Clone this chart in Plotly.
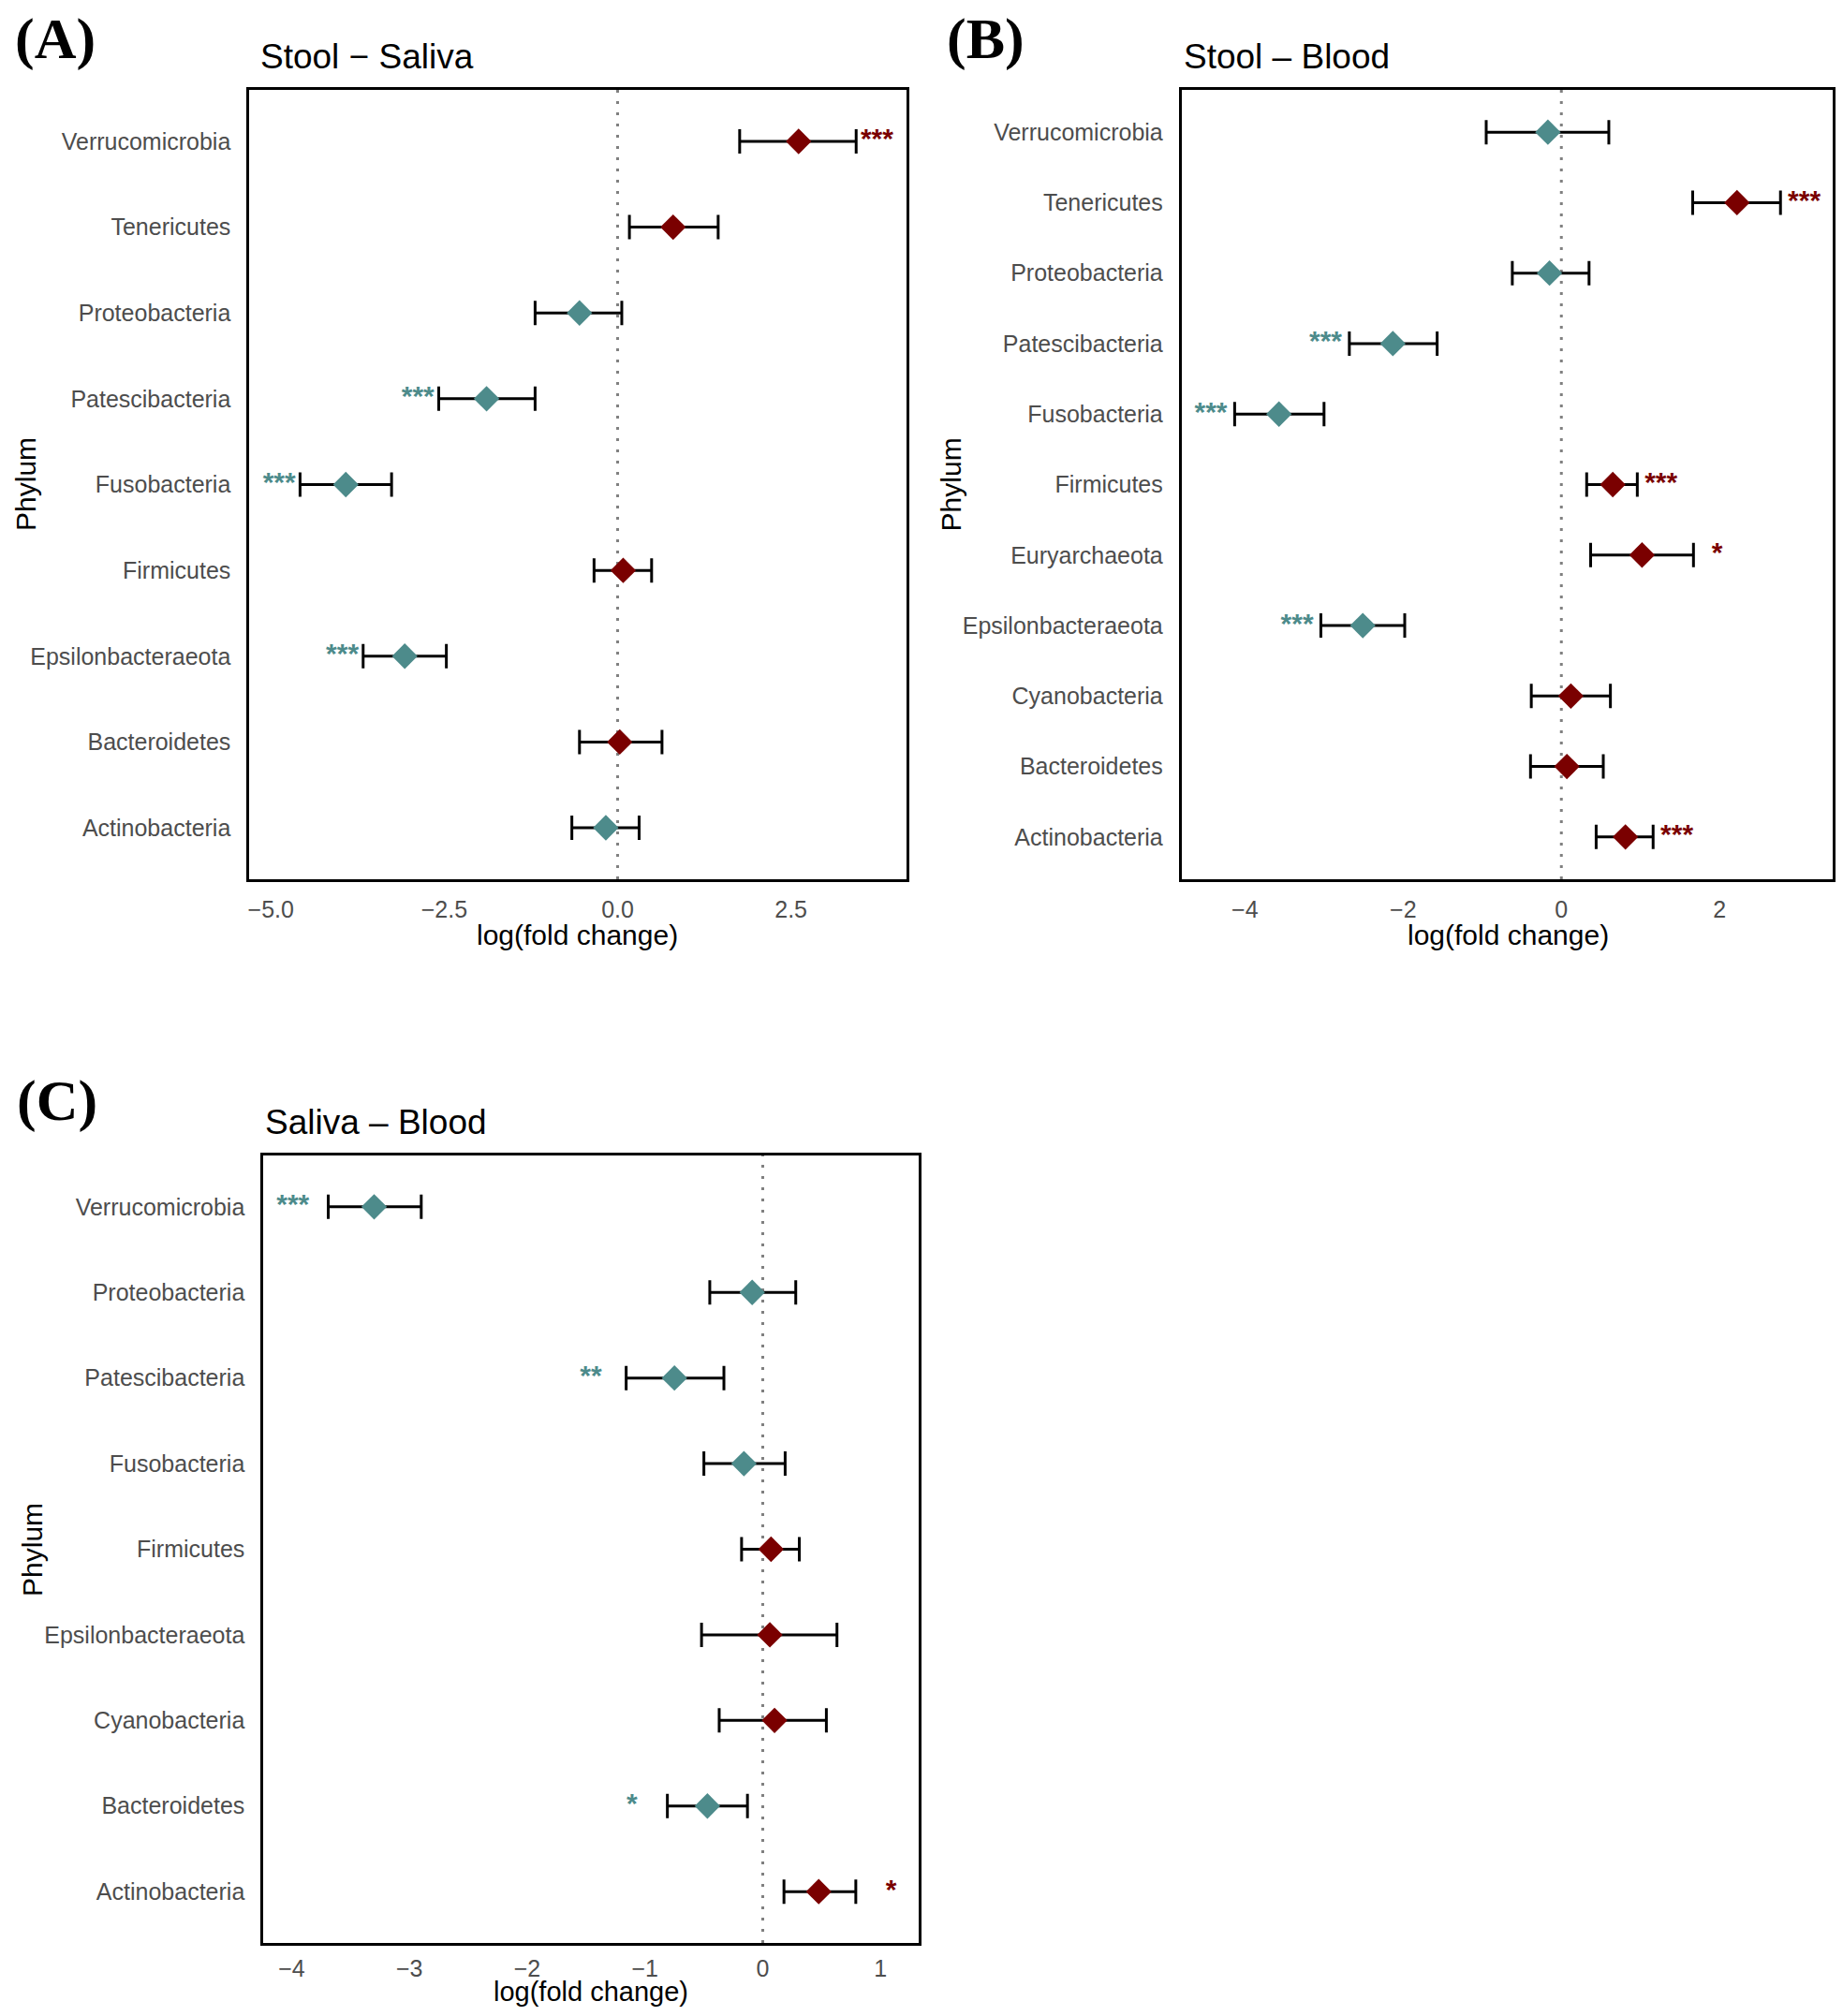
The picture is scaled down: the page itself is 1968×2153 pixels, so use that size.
import plotly.graph_objects as go

# Panel A: Stool - Saliva
phyla_a = ["Actinobacteria", "Bacteroidetes", "Epsilonbacteraeota", "Firmicutes", "Fusobacteria",
           "Patescibacteria", "Proteobacteria", "Tenericutes", "Verrucomicrobia"]
est_a = [-0.17, 0.03, -3.07, 0.08, -3.92, -1.89, -0.55, 0.80, 2.61]
lo_a = [-0.66, -0.55, -3.67, -0.34, -4.58, -2.58, -1.19, 0.17, 1.76]
hi_a = [0.31, 0.64, -2.47, 0.49, -3.26, -1.19, 0.06, 1.45, 3.44]
sig_a = ["", "", "***", "", "***", "***", "", "", "***"]

# Panel B: Stool - Blood
phyla_b = ["Actinobacteria", "Bacteroidetes", "Cyanobacteria", "Epsilonbacteraeota", "Euryarchaeota",
           "Firmicutes", "Fusobacteria", "Patescibacteria", "Proteobacteria", "Tenericutes", "Verrucomicrobia"]
est_b = [0.81, 0.07, 0.12, -2.51, 1.02, 0.65, -3.57, -2.13, -0.15, 2.22, -0.17]
lo_b = [0.44, -0.39, -0.38, -3.04, 0.37, 0.32, -4.13, -2.68, -0.62, 1.66, -0.95]
hi_b = [1.16, 0.53, 0.62, -1.98, 1.67, 0.96, -3.00, -1.57, 0.35, 2.77, 0.60]
sig_b = ["***", "", "", "***", "*", "***", "***", "***", "", "***", ""]

# Panel C: Saliva - Blood
phyla_c = ["Actinobacteria", "Bacteroidetes", "Cyanobacteria", "Epsilonbacteraeota", "Firmicutes",
           "Fusobacteria", "Patescibacteria", "Proteobacteria", "Verrucomicrobia"]
est_c = [0.475, -0.47, 0.10, 0.06, 0.07, -0.16, -0.75, -0.09, -3.30]
lo_c = [0.18, -0.81, -0.37, -0.52, -0.18, -0.50, -1.16, -0.45, -3.69]
hi_c = [0.79, -0.13, 0.54, 0.63, 0.31, 0.19, -0.33, 0.28, -2.90]
sig_c = ["*", "*", "", "", "", "", "**", "", "***"]

titles = ["Stool \u2212 Saliva", "Stool \u2013 Blood", "Saliva \u2013 Blood"]

# the page body has an 8px margin, so the figure is drawn a bit smaller and shifted
PAD = 8
W, H = 1968 - 2 * PAD, 2153 - 2 * PAD
RED = "#7a0000"
TEAL = "#4d8b8b"
FONT = "Liberation Sans"


def px_x(p):
    return min(1.0, max(0.0, (p - PAD) / W))


def px_y(p):
    return min(1.0, max(0.0, 1 - (p - PAD) / H))


# plot boxes in page pixels: left, right, top, bottom
boxes = [(265, 968, 96, 939), (1263, 1962, 96, 939), (280, 981, 1234, 2075)]
xranges = [[-5.31, 4.16], [-4.80, 3.43], [-4.24, 1.32]]
xticks = [dict(tickvals=[-5, -2.5, 0, 2.5], tickformat=".1f"),
          dict(tickvals=[-4, -2, 0, 2], tickformat="d"),
          dict(tickvals=[-4, -3, -2, -1, 0, 1], tickformat="d")]
title_dx = [10, 0, 0]
xtitle_dy = [59, 59, 52]
xtitle_size = [30, 30, 29]
tick_standoff = [8, 8, 3]

panels = [(phyla_a, est_a, lo_a, hi_a, sig_a),
          (phyla_b, est_b, lo_b, hi_b, sig_b),
          (phyla_c, est_c, lo_c, hi_c, sig_c)]

fig = go.Figure()
annotations = []
shapes = []

for i, (phyla, est, lo, hi, sig) in enumerate(panels):
    n = i + 1
    xa = "x" if n == 1 else "x%d" % n
    ya = "y" if n == 1 else "y%d" % n
    cols = [RED if e > 0 else TEAL for e in est]

    fig.add_trace(go.Scatter(
        x=est, y=phyla, xaxis=xa, yaxis=ya, mode="markers",
        marker=dict(symbol="diamond", size=21, color=cols, line=dict(width=0)),
        error_x=dict(type="data", symmetric=False,
                     array=[h - e for h, e in zip(hi, est)],
                     arrayminus=[e - l for e, l in zip(est, lo)],
                     color="black", thickness=3, width=13),
        showlegend=False, hoverinfo="skip"))

    # significance stars just beyond the error bar end
    sx = [h + 0.3 if e > 0 else l - 0.3 for e, l, h in zip(est, lo, hi)]
    fig.add_trace(go.Scatter(
        x=sx, y=phyla, xaxis=xa, yaxis=ya, mode="text", text=sig,
        textposition="middle center",
        textfont=dict(family=FONT, size=30, color=cols, weight="bold"),
        showlegend=False, hoverinfo="skip"))

    l, r, t, b = boxes[i]
    axis_x = dict(domain=[px_x(l), px_x(r)], range=xranges[i], anchor=ya,
                  showline=True, mirror=True, linecolor="black", linewidth=3,
                  showgrid=False, zeroline=False, ticks="",
                  tickfont=dict(family=FONT, size=25, color="#4d4d4d"),
                  ticklabelstandoff=tick_standoff[i], **xticks[i])
    axis_y = dict(domain=[px_y(b), px_y(t)], anchor=xa, type="category",
                  categoryorder="array", categoryarray=phyla,
                  range=[-0.6, len(phyla) - 0.4],
                  showline=True, mirror=True, linecolor="black", linewidth=3,
                  showgrid=False, zeroline=False, ticks="",
                  tickfont=dict(family=FONT, size=25, color="#4d4d4d"),
                  ticklabelstandoff=12)
    fig.update_layout(**{("xaxis" if n == 1 else "xaxis%d" % n): axis_x,
                         ("yaxis" if n == 1 else "yaxis%d" % n): axis_y})

    # dotted zero line
    shapes.append(dict(type="line", xref=xa, yref=ya + " domain", x0=0, x1=0, y0=0, y1=1,
                       line=dict(color="#808080", width=3, dash="3px,9px"), layer="below"))

    # panel title
    annotations.append(dict(text=titles[i], x=px_x(l + title_dx[i]), y=px_y(t - 36),
                            xref="paper", yref="paper",
                            xanchor="left", yanchor="middle", showarrow=False,
                            font=dict(family=FONT, size=37, color="black")))
    # x axis title
    annotations.append(dict(text="log(fold change)", x=px_x((l + r) / 2), y=px_y(b + xtitle_dy[i]),
                            xref="paper", yref="paper", xanchor="center", yanchor="middle",
                            showarrow=False, font=dict(family=FONT, size=xtitle_size[i], color="black")))

# y axis titles
for xp, yp in [(25, 517), (1016, 517), (32, 1655)]:
    annotations.append(dict(text="Phylum", x=px_x(xp), y=px_y(yp), xref="paper", yref="paper",
                            xanchor="center", yanchor="middle", textangle=-90, showarrow=False,
                            font=dict(family=FONT, size=30, color="black")))

# panel tags
for tag, xp, yp in [("(A)", 12, 42), ("(B)", 1010, 42), ("(C)", 14, 1175)]:
    annotations.append(dict(text="<b>%s</b>" % tag, x=px_x(xp), y=px_y(yp), xref="paper", yref="paper",
                            xanchor="left", yanchor="middle", showarrow=False,
                            font=dict(family="Liberation Serif", size=62, color="black")))

fig.update_layout(width=W, height=H, margin=dict(l=0, r=0, t=0, b=0),
                  paper_bgcolor="white", plot_bgcolor="white",
                  annotations=annotations, shapes=shapes)

fig.write_html("out.html")
